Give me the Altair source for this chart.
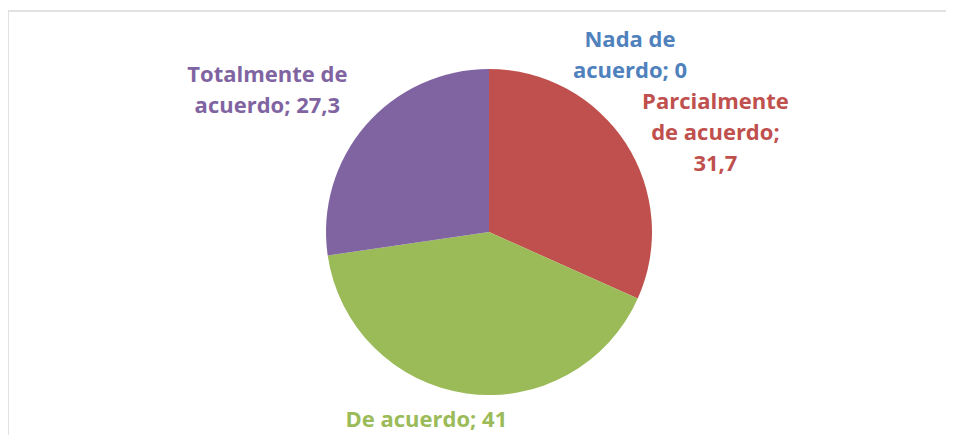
import altair as alt
import pandas as pd

categories = ["Nada de acuerdo", "Parcialmente de acuerdo", "De acuerdo", "Totalmente de acuerdo"]
values = [0, 31.7, 41, 27.3]
colors = ["#4F81BD", "#C0504D", "#9BBB59", "#8064A2"]
# where each category name breaks onto a new line in its label
label_breaks = ["Nada de|acuerdo; ", "Parcialmente|de acuerdo;|", "De acuerdo; ", "Totalmente de|acuerdo; "]


def fmt(v):
    return f"{v:g}".replace(".", ",")


labels = [(b + fmt(v)).replace("|", "\n") for b, v in zip(label_breaks, values)]

df = pd.DataFrame({
    "cat": categories,
    "value": values,
    "idx": list(range(len(categories))),
    "label": labels,
})

color_scale = alt.Scale(domain=categories, range=colors)
theta_scale = alt.Scale(domain=[0, 100])

base = (
    alt.Chart(df)
    .transform_stack(stack="value", groupby=[], as_=["start", "end"], sort=[alt.SortField("idx")])
    .transform_calculate(mid="(datum.start + datum.end) / 2")
)

arcs = base.mark_arc(outerRadius=163).encode(
    theta=alt.Theta("start:Q", scale=theta_scale),
    theta2="end:Q",
    color=alt.Color("cat:N", scale=color_scale, legend=None),
)

LH = 31
offsets = {
    "Nada de acuerdo": (141, 38),
    "Parcialmente de acuerdo": (46, 18),
    "De acuerdo": (-33, -25),
    "Totalmente de acuerdo": (-59, -1),
}

text_layers = []
for cat, lab in zip(categories, labels):
    dx, dy = offsets[cat]
    n_lines = lab.count("\n") + 1
    dy = dy - (n_lines - 1) * LH / 2
    t = (
        base.transform_filter(alt.datum.cat == cat)
        .mark_text(
            radius=215, dx=dx, dy=dy, font="Open Sans", fontWeight="bold", fontSize=22,
            lineBreak="\n", lineHeight=LH, align="center", baseline="middle",
        )
        .encode(
            theta=alt.Theta("mid:Q", scale=theta_scale),
            text="label:N",
            color=alt.Color("cat:N", scale=color_scale, legend=None),
        )
    )
    text_layers.append(t)

chart = (
    alt.layer(arcs, *text_layers)
    .properties(
        width=962,
        height=442,
        padding={"left": 0, "top": 3, "right": -24, "bottom": -18},
        autosize=alt.AutoSizeParams(type="none"),
        background="white",
        view=alt.ViewBackground(stroke="#D9D9D9", strokeWidth=1.5),
    )
)

chart.save("out.html", embed_options={"renderer": "svg", "actions": False})
